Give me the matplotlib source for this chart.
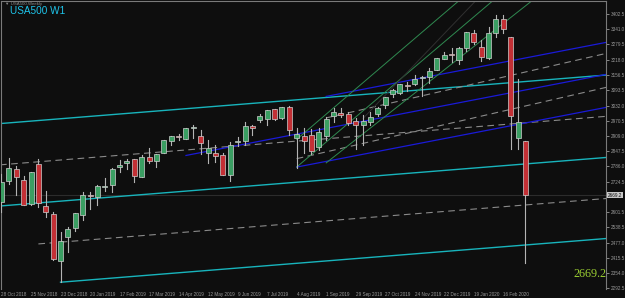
import matplotlib
matplotlib.use('Agg')
import matplotlib.pyplot as plt
from matplotlib.patches import Rectangle

# weekly bars, index 0 = week of 28 Oct 2018
opens = [2641, 2726, 2775, 2731, 2634, 2794, 2626, 2592, 2401, 2499,
         2538, 2589, 2670, 2663, 2704, 2711, 2783, 2799, 2816, 2744,
         2822, 2809, 2838, 2888, 2909, 2898, 2940, 2909, 2840, 2841,
         2830, 2751, 2886, 2889, 2951, 2972, 2979, 3017, 2981, 3025,
         2899, 2907, 2913, 2866, 2910, 2989, 3001, 2999, 2968, 2953,
         2965, 2996, 3035, 3078, 3081, 3117, 3118, 3144, 3149, 3176,
         3220, 3241, 3216, 3266, 3327, 3270, 3223, 3324, 3382, 3308,
         2899, 2890]
highs = [2756, 2818, 2786, 2747, 2765, 2814, 2686, 2601, 2520, 2539,
         2597, 2681, 2682, 2709, 2738, 2778, 2813, 2814, 2816, 2830,
         2860, 2836, 2894, 2910, 2916, 2940, 2954, 2932, 2892, 2874,
         2841, 2884, 2905, 2964, 2954, 2996, 3014, 3018, 3028, 3029,
         2943, 2943, 2939, 2940, 2985, 3021, 3022, 3007, 2983, 2993,
         3004, 3027, 3066, 3098, 3120, 3127, 3154, 3150, 3183, 3226,
         3250, 3264, 3267, 3329, 3338, 3297, 3348, 3398, 3398, 3308,
         3139, 2890]
lows = [2603, 2713, 2670, 2631, 2628, 2621, 2582, 2408, 2317, 2441,
        2525, 2570, 2612, 2631, 2687, 2681, 2764, 2775, 2722, 2741,
        2800, 2785, 2838, 2873, 2893, 2898, 2900, 2836, 2801, 2805,
        2750, 2728, 2868, 2873, 2913, 2967, 2953, 2973, 2976, 2914,
        2780, 2840, 2834, 2853, 2891, 2964, 2985, 2953, 2855, 2874,
        2953, 2988, 3024, 3066, 3078, 3091, 3117, 3070, 3123, 3176,
        3220, 3207, 3200, 3254, 3280, 3212, 3220, 3308, 3324, 2855,
        2856, 2393]
closes = [2724, 2781, 2741, 2630, 2762, 2637, 2600, 2410, 2485, 2531,
          2596, 2672, 2664, 2707, 2708, 2777, 2792, 2806, 2747, 2825,
          2806, 2836, 2893, 2907, 2905, 2940, 2946, 2881, 2860, 2826,
          2752, 2873, 2887, 2950, 2942, 2990, 3014, 2977, 3026, 2932,
          2918, 2889, 2847, 2926, 2979, 3007, 2992, 2961, 2952, 2970,
          2986, 3023, 3067, 3093, 3120, 3110, 3141, 3146, 3173, 3223,
          3237, 3238, 3264, 3328, 3291, 3230, 3324, 3382, 3341, 2990,
          2964, 2669.2]

date_ticks = [0, 4, 8, 12, 16, 20, 24, 28, 32, 36, 40, 44, 48, 52, 56, 60, 64, 68]
date_labels = ['28 Oct 2018', '25 Nov 2018', '23 Dec 2018', '20 Jan 2019', '17 Feb 2019',
               '17 Mar 2019', '14 Apr 2019', '12 May 2019', '9 Jun 2019', '7 Jul 2019',
               '4 Aug 2019', '1 Sep 2019', '29 Sep 2019', '27 Oct 2019', '24 Nov 2019',
               '22 Dec 2019', '19 Jan 2020', '16 Feb 2020']
price_ticks = [3402.5, 3341.0, 3279.5, 3218.0, 3156.5, 3093.5, 3032.0, 2970.5, 2909.0,
               2847.5, 2786.0, 2724.5, 2601.5, 2538.5, 2477.0, 2415.5, 2354.0, 2292.5]
last_price = 2669.2

# drawn objects: (bar0, price0, bar1, price1)
cyan_lines = [(-0.2, 2959, 82, 3155.6),
              (-0.2, 2625.5, 82, 2822),
              (8, 2317, 82, 2494)]
gray_dashed = [(-0.2, 2792, 82, 2988.5),
               (5, 2472, 82, 2656),
               (44, 2982, 82, 3243.5),
               (40, 2817, 82, 3106)]
blue_lines = [(40, 2783, 82, 3025),
              (25, 2830, 82, 3158.5),
              (44, 3069, 82, 3288)]
green_lines = [(40, 2783, 66.5, 3454),
               (40, 2895, 61.9, 3454),
               (44, 2800, 71.8, 3454)]
dark_lines = [(49, 2980, 64.2, 3454)]

bg = '#0e0e0e'
tick_font = 'Liberation Sans'
fig = plt.figure(figsize=(6.25, 2.98), dpi=100, facecolor=bg)
ax = fig.add_axes([1.5 / 625, 9.5 / 298, 604.5 / 625, 287.2 / 298], facecolor=bg)
ax.set_xlim(0.03, 81.92)
ax.set_ylim(2291.6, 3453.9)

# current price line
ax.axhline(last_price, color='#2c2c2c', lw=0.8, zorder=1)

for x0, y0, x1, y1 in cyan_lines:
    ax.plot([x0, x1], [y0, y1], color='#18b4bc', lw=1.0, zorder=2)
for x0, y0, x1, y1 in gray_dashed:
    ax.plot([x0, x1], [y0, y1], color='#8a8a8a', lw=0.8, ls=(0, (6, 4)), zorder=2)
for x0, y0, x1, y1 in blue_lines:
    ax.plot([x0, x1], [y0, y1], color='#1a1ad8', lw=0.9, zorder=2)
for x0, y0, x1, y1 in green_lines:
    ax.plot([x0, x1], [y0, y1], color='#2f8a50', lw=0.7, zorder=2)
for x0, y0, x1, y1 in dark_lines:
    ax.plot([x0, x1], [y0, y1], color='#303030', lw=0.7, zorder=2)

w = 0.68
for i in range(len(opens)):
    o, h, l, c = opens[i], highs[i], lows[i], closes[i]
    ax.plot([i, i], [l, h], color='#b4b4b4', lw=0.8, zorder=3)
    col = '#3a9e62' if c >= o else '#c33035'
    lo, hi = min(o, c), max(o, c)
    ax.add_patch(Rectangle((i - w / 2, lo), w, max(hi - lo, 1.5), facecolor=col,
                           edgecolor='#d0d0d0', lw=0.5, zorder=4))

for s in ['top', 'left', 'right']:
    ax.spines[s].set_color('#7a7a7a')
    ax.spines[s].set_linewidth(0.8)
ax.spines['bottom'].set_visible(False)

ax.yaxis.tick_right()
ax.set_yticks(price_ticks)
ax.set_yticklabels(['%.1f' % p for p in price_ticks], family=tick_font)
ax.tick_params(axis='y', colors='#9a9a9a', labelsize=3.3, length=2, width=0.6, pad=1.2)
ax.set_xticks(date_ticks)
ax.set_xticklabels(date_labels, ha='left', family=tick_font)
ax.tick_params(axis='x', colors='#9a9a9a', labelsize=3.3, length=0, pad=2.2)

# price box on the axis
ax.text(1.003, last_price, '%.1f' % last_price, transform=ax.get_yaxis_transform(),
        fontsize=3.3, family=tick_font, color='#101010', va='center', ha='left',
        bbox=dict(boxstyle='square,pad=0.15', facecolor='#c8c8c8', edgecolor='none'))

fig.text(5 / 625, 1 - 4 / 298, '\u25bc USA500,Weekly', fontsize=3.2, color='#8a8a8a',
         va='center', family=tick_font)
fig.text(10 / 625, 1 - 11.5 / 298, 'USA500 W1', fontsize=7.2, color='#1ec4ea',
         va='center', family=tick_font)
fig.text(606 / 625, 1 - 274 / 298, '%.1f' % last_price, fontsize=8.7, color='#9acd32',
         family='Liberation Serif', va='center', ha='right')

fig.savefig('out.png', dpi=100, facecolor=bg)
